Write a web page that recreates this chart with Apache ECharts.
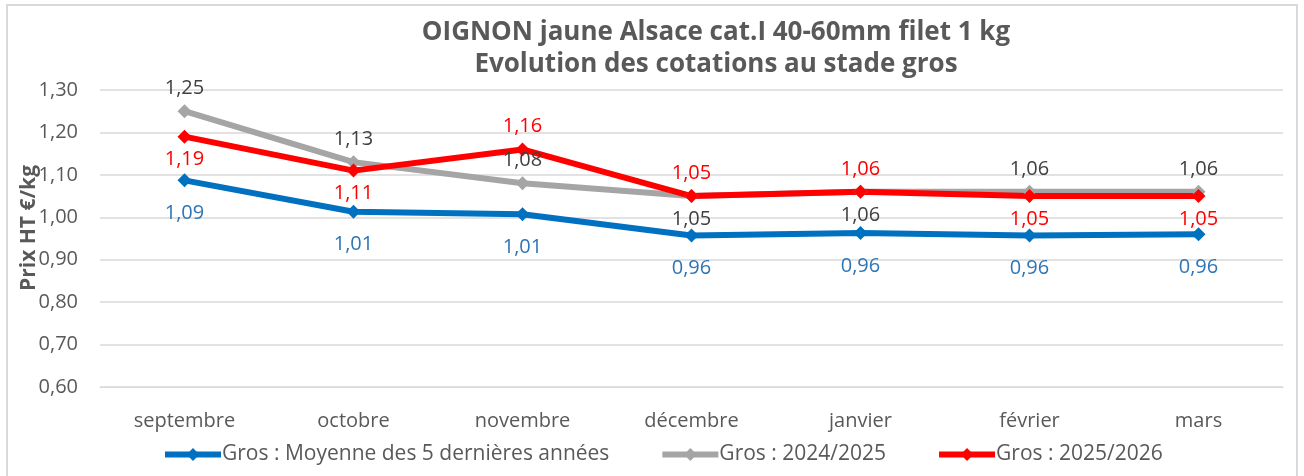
<!DOCTYPE html>
<html>
<head>
<meta charset="utf-8">
<script src="https://cdn.jsdelivr.net/npm/echarts@6/dist/echarts.min.js"></script>
<style>
  html, body { margin: 0; padding: 0; background: #fff; }
  #chart { width: 1304px; height: 476px; }
</style>
</head>
<body>
<div id="chart"></div>
<script>
// mois
const months = ['septembre', 'octobre', 'novembre', 'décembre', 'janvier', 'février', 'mars']
// Gros : Moyenne des 5 dernières années
const moyenne5 = [1.087, 1.013, 1.007, 0.957, 0.963, 0.957, 0.96]
// Gros : 2024/2025
const saison2425 = [1.25, 1.13, 1.08, 1.05, 1.06, 1.06, 1.06]
// Gros : 2025/2026
const saison2526 = [1.19, 1.11, 1.16, 1.05, 1.06, 1.05, 1.05]

// côté des étiquettes (au-dessus / en dessous)
const posGris = ['top', 'top', 'top', 'bottom', 'bottom', 'top', 'top']
const posRouge = ['bottom', 'bottom', 'top', 'top', 'top', 'bottom', 'bottom']

const fmt = v => v.toFixed(2).replace('.', ',')

function serie(name, values, color, labelColor, positions, distance) {
  return {
    name: name,
    type: 'line',
    symbol: 'diamond',
    symbolSize: 14,
    lineStyle: { width: 6, color: color },
    itemStyle: { color: color },
    label: {
      show: true,
      color: labelColor,
      fontSize: 20,
      fontFamily: 'Open Sans',
      distance: distance,
      formatter: p => fmt(p.value)
    },
    data: values.map((v, i) => ({
      value: v,
      label: { position: positions ? positions[i] : 'bottom' }
    })),
    z: 2
  }
}

const myChart = echarts.init(document.querySelector('#chart'))
const option = {
  animation: false,
  title: {
    text: 'OIGNON jaune Alsace cat.I 40-60mm filet 1 kg\nEvolution des cotations au stade gros',
    left: 711,
    top: 12,
    textAlign: 'center',
    textStyle: {
      color: '#595959',
      fontSize: 26,
      fontWeight: 'bold',
      fontFamily: 'Open Sans',
      lineHeight: 32
    }
  },
  graphic: [
    // cadre du graphique
    {
      type: 'rect',
      shape: { x: 7, y: 5, width: 1290, height: 480 },
      style: { fill: 'none', stroke: '#d9d9d9', lineWidth: 2 },
      silent: true
    },
    // titre de l'axe vertical
    {
      type: 'text',
      x: 29,
      y: 228,
      rotation: Math.PI / 2,
      style: {
        text: 'Prix HT €/kg',
        fill: '#595959',
        font: 'bold 21px "Open Sans"',
        align: 'center',
        verticalAlign: 'middle'
      }
    }
  ],
  grid: { left: 100, right: 21, top: 90, bottom: 89 },
  legend: {
    bottom: 6,
    left: 157,
    itemWidth: 56,
    itemHeight: 16,
    itemGap: 50,
    lineStyle: { width: 6 },
    textStyle: { color: '#595959', fontSize: 21, fontFamily: 'Open Sans', padding: [0, 0, 0, -4] },
    data: ['Gros : Moyenne des 5 dernières années', 'Gros : 2024/2025', 'Gros : 2025/2026']
  },
  xAxis: {
    type: 'category',
    data: months,
    axisLine: { lineStyle: { color: '#d9d9d9' } },
    axisTick: { show: false },
    axisLabel: { color: '#595959', fontSize: 20, fontFamily: 'Open Sans', margin: 24 }
  },
  yAxis: {
    type: 'value',
    min: 0.6,
    max: 1.3,
    interval: 0.1,
    axisLabel: { color: '#595959', fontSize: 20, fontFamily: 'Open Sans', margin: 22, formatter: v => fmt(v) },
    splitLine: { lineStyle: { color: '#d9d9d9', width: 1.5 } }
  },
  series: [
    serie('Gros : Moyenne des 5 dernières années', moyenne5, '#0070c0', '#2e75b6', null, 16),
    serie('Gros : 2024/2025', saison2425, '#a5a5a5', '#404040', posGris, 6),
    serie('Gros : 2025/2026', saison2526, '#ff0000', '#ff0000', posRouge, 6)
  ]
}
myChart.setOption(option)
</script>
</body>
</html>
